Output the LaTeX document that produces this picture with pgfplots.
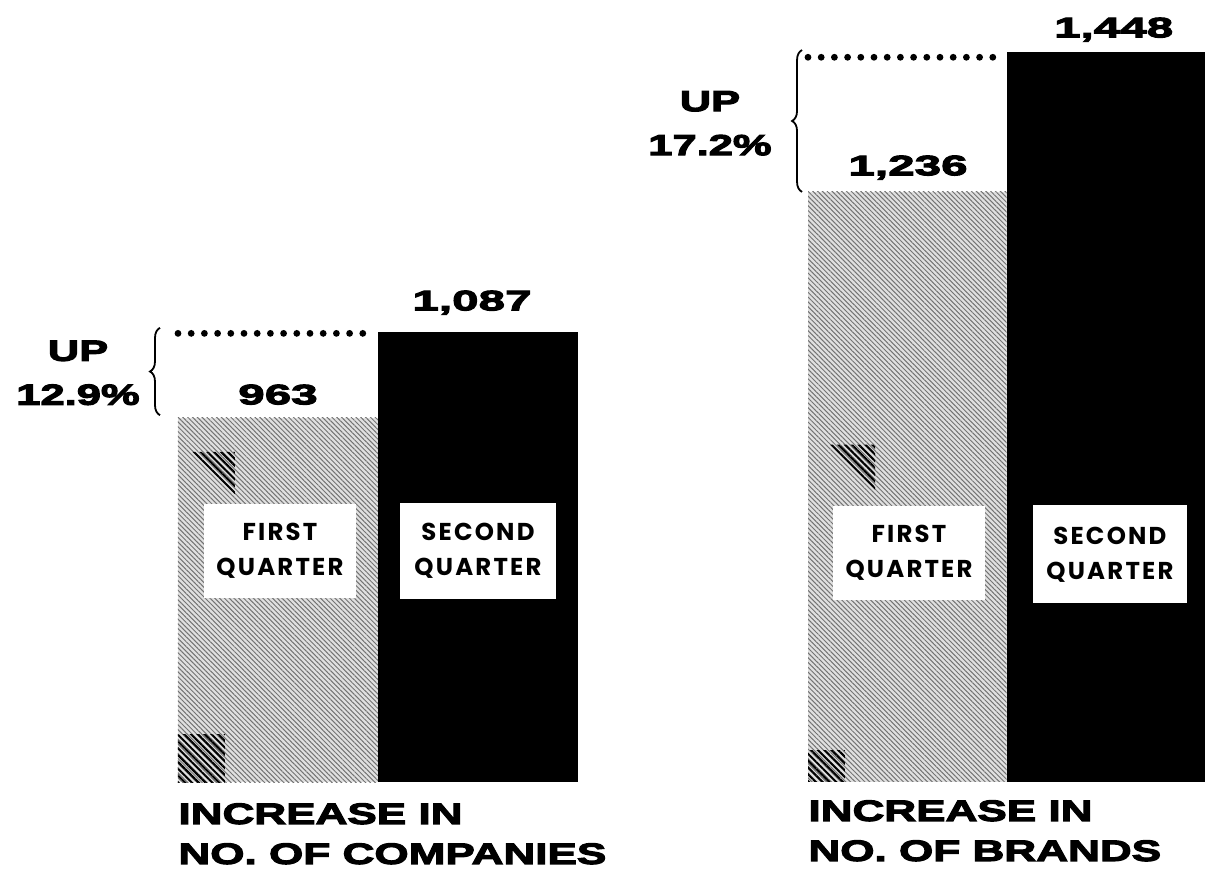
\documentclass[border=0pt]{standalone}
\usepackage{pgfplots}
\pgfplotsset{compat=1.18}
\usepackage{fontspec}
\usetikzlibrary{patterns.meta,decorations.pathreplacing}
\newfontfamily\ext[FakeStretch=1.5,FakeBold=4]{Liberation Sans Bold}
\newfontfamily\extn[FakeStretch=1.7,FakeBold=4]{Liberation Sans Bold}
\newfontfamily\qf[LetterSpace=9]{Poppins}
\begin{document}
\begin{tikzpicture}
\useasboundingbox (0,0) rectangle (603.5pt,434.5pt);
\pgfplotsset{
  bars/.style={hide axis, scale only axis, clip mode=individual, xmin=0, xmax=2, anchor=south west},
  q1/.style={ybar, bar width=1, bar shift=0pt, draw=none, fill=black!12,
     postaction={pattern={Lines[angle=-45,distance=1.7pt,line width=0.5pt]}, pattern color=black!55}},
  q2/.style={ybar, bar width=1, bar shift=0pt, draw=none, fill=black},
}
\tikzset{
  val/.style={font=\extn\fontsize{14}{16}\selectfont, anchor=south, inner sep=0pt},
  qbox/.style={fill=white, minimum width=76pt, minimum height=47pt, align=center, inner sep=0pt,
     font=\qf\fontsize{12.2}{17.5}\selectfont\bfseries},
  dots/.style={line width=3.4pt, line cap=round, dash pattern=on 0pt off 6.6pt},
  brc/.style={line width=0.9pt, decorate, decoration={brace, amplitude=5pt}},
  up/.style={font=\ext\fontsize{14.5}{22}\selectfont, align=center, inner sep=0pt},
  ttl/.style={anchor=north west, inner sep=0pt, align=left, font=\ext\fontsize{14.7}{20}\selectfont},
  hmark/.style={pattern={Lines[angle=-45,distance=2.4pt,line width=1pt]}, pattern color=black},
}
% ---- Companies ----
\begin{axis}[bars, at={(89pt,43.5pt)}, width=200pt, height=225pt, ymin=438, ymax=1087]
\addplot[q1] coordinates {(0.5,963)};
\addplot[q2] coordinates {(1.5,1087)};
\fill[hmark] (axis cs:0,438) rectangle (axis cs:0.235,506);
\fill[hmark] (axis cs:0.07,914) -- (axis cs:0.285,914) -- (axis cs:0.285,853) -- cycle;
\node[val, yshift=6.5pt] at (axis cs:0.5,963) {963};
\node[val, yshift=8.5pt] at (axis cs:1.47,1087) {1,087};
\node[qbox] at (axis cs:0.51,771) {FIRST\\QUARTER};
\node[qbox, minimum width=78pt, minimum height=48pt] at (axis cs:1.5,771) {SECOND\\QUARTER};
\draw[dots] (axis cs:0,1085) -- (axis cs:0.97,1085);
\draw[brc] (axis cs:-0.09,967) -- (axis cs:-0.09,1093);
\node[up] at (axis cs:-0.5,1028) {UP\\12.9\%};
\node[ttl, yshift=-10.5pt] at (axis cs:0,438) {INCREASE IN\\NO. OF COMPANIES};
\end{axis}
% ---- Brands ----
\begin{axis}[bars, at={(404pt,43.5pt)}, width=198.5pt, height=365pt, ymin=342, ymax=1448]
\addplot[q1] coordinates {(0.5,1236)};
\addplot[q2] coordinates {(1.5,1448)};
\fill[hmark] (axis cs:0,342) rectangle (axis cs:0.186,390);
\fill[hmark] (axis cs:0.111,853) -- (axis cs:0.338,853) -- (axis cs:0.338,784) -- cycle;
\node[val, yshift=6pt] at (axis cs:0.504,1236) {1,236};
\node[val, yshift=5pt] at (axis cs:1.54,1448) {1,448};
\node[qbox] at (axis cs:0.509,689) {FIRST\\QUARTER};
\node[qbox, minimum width=77pt, minimum height=49pt] at (axis cs:1.521,687) {SECOND\\QUARTER};
\draw[dots] (axis cs:0,1440) -- (axis cs:0.99,1440);
\draw[brc] (axis cs:-0.03,1236) -- (axis cs:-0.03,1451);
\node[up] at (axis cs:-0.494,1340) {UP\\17.2\%};
\node[ttl, yshift=-9pt] at (axis cs:0,342) {INCREASE IN\\NO. OF BRANDS};
\end{axis}
\end{tikzpicture}
\end{document}
